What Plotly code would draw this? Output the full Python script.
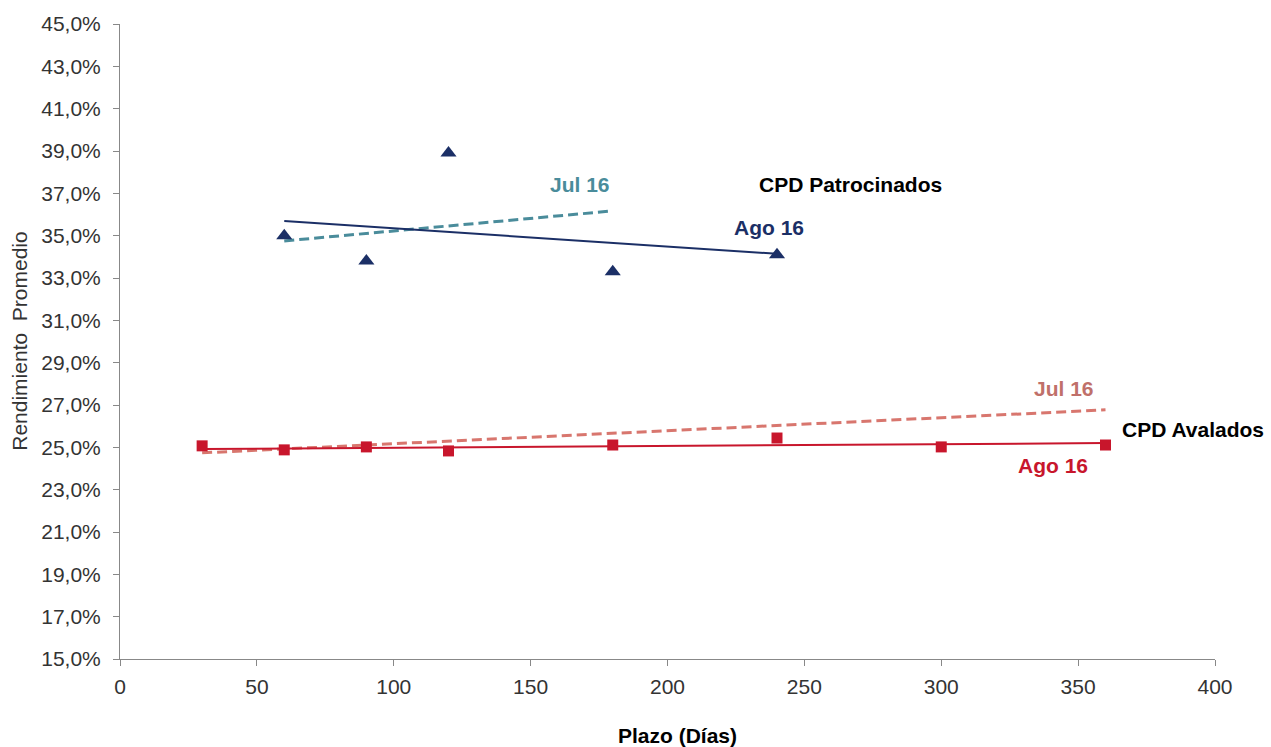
import plotly.graph_objects as go

# Data
plazo_patro = [60, 90, 120, 180, 240]
rend_patro = [35.0, 33.8, 38.9, 33.3, 34.1]
plazo_aval = [30, 60, 90, 120, 180, 240, 300, 360]
rend_aval = [25.07, 24.88, 25.02, 24.83, 25.11, 25.44, 25.02, 25.11]

# Trend lines (endpoints)
trend_patro_ago_x = [60, 240]
trend_patro_ago_y = [35.69, 34.14]
trend_patro_jul_x = [60, 180]
trend_patro_jul_y = [34.75, 36.17]
trend_aval_ago_x = [30, 360]
trend_aval_ago_y = [24.92, 25.20]
trend_aval_jul_x = [30, 360]
trend_aval_jul_y = [24.74, 26.77]

y_ticks = [15, 17, 19, 21, 23, 25, 27, 29, 31, 33, 35, 37, 39, 41, 43, 45]
y_tick_text = ["15,0%", "17,0%", "19,0%", "21,0%", "23,0%", "25,0%", "27,0%", "29,0%",
               "31,0%", "33,0%", "35,0%", "37,0%", "39,0%", "41,0%", "43,0%", "45,0%"]
x_ticks = [0, 50, 100, 150, 200, 250, 300, 350, 400]

NAVY = "#1B2F66"
TEAL = "#4A8C9B"
RED = "#C8162C"
SALMON = "#D8766E"
FONT = "Liberation Sans, Arial, sans-serif"

fig = go.Figure()
fig.add_trace(go.Scatter(x=trend_patro_jul_x, y=trend_patro_jul_y, mode="lines",
                         line=dict(color=TEAL, width=3, dash="10px,5px"), hoverinfo="skip"))
fig.add_trace(go.Scatter(x=trend_patro_ago_x, y=trend_patro_ago_y, mode="lines",
                         line=dict(color=NAVY, width=2), hoverinfo="skip"))
fig.add_trace(go.Scatter(x=plazo_patro, y=rend_patro, mode="markers",
                         marker=dict(symbol="triangle-up", size=14, color=NAVY)))
fig.add_trace(go.Scatter(x=trend_aval_jul_x, y=trend_aval_jul_y, mode="lines",
                         line=dict(color=SALMON, width=3, dash="10px,5px"), hoverinfo="skip"))
fig.add_trace(go.Scatter(x=trend_aval_ago_x, y=trend_aval_ago_y, mode="lines",
                         line=dict(color=RED, width=2), hoverinfo="skip"))
fig.add_trace(go.Scatter(x=plazo_aval, y=rend_aval, mode="markers",
                         marker=dict(symbol="square", size=11, color=RED)))

annots = [
    dict(x=168, y=37.4, text="<b>Jul 16</b>", color=TEAL),
    dict(x=267, y=37.4, text="<b>CPD Patrocinados</b>", color="#000000"),
    dict(x=237, y=35.4, text="<b>Ago 16</b>", color=NAVY),
    dict(x=345, y=27.8, text="<b>Jul 16</b>", color="#C0706A"),
    dict(x=392, y=25.82, text="<b>CPD Avalados</b>", color="#000000"),
    dict(x=341, y=24.12, text="<b>Ago 16</b>", color=RED),
]
for a in annots:
    fig.add_annotation(x=a["x"], y=a["y"], text=a["text"], showarrow=False,
                       font=dict(family=FONT, size=21, color=a["color"]))

# Axis titles
fig.add_annotation(xref="paper", yref="paper", x=-0.092, y=0.5, xanchor="center",
                   yanchor="middle", textangle=-90, showarrow=False,
                   text="Rendimiento  Promedio",
                   font=dict(family=FONT, size=21, color="#333333"))
fig.add_annotation(xref="paper", yref="paper", x=0.509, y=-0.121, xanchor="center",
                   yanchor="middle", showarrow=False,
                   text="<b>Plazo (Días)</b>",
                   font=dict(family=FONT, size=21, color="#000000"))

fig.update_layout(
    width=1271, height=747,
    margin=dict(l=120, r=56, t=24, b=88),
    plot_bgcolor="white", paper_bgcolor="white",
    showlegend=False,
    font=dict(family=FONT, size=21, color="#333333"),
    xaxis=dict(range=[0, 400], tickvals=x_ticks, showgrid=False, zeroline=False,
               showline=True, linecolor="#888888", linewidth=1,
               ticks="outside", ticklen=6, tickcolor="#888888",
               ticklabelstandoff=3, automargin=False,
               tickfont=dict(size=21, color="#333333")),
    yaxis=dict(range=[15, 45], tickvals=y_ticks, ticktext=y_tick_text, showgrid=False,
               zeroline=False, showline=True, linecolor="#888888", linewidth=1,
               ticks="outside", ticklen=6, tickcolor="#888888",
               ticklabelstandoff=8, automargin=False,
               tickfont=dict(size=21, color="#333333")),
)

fig.write_html("out.html")
